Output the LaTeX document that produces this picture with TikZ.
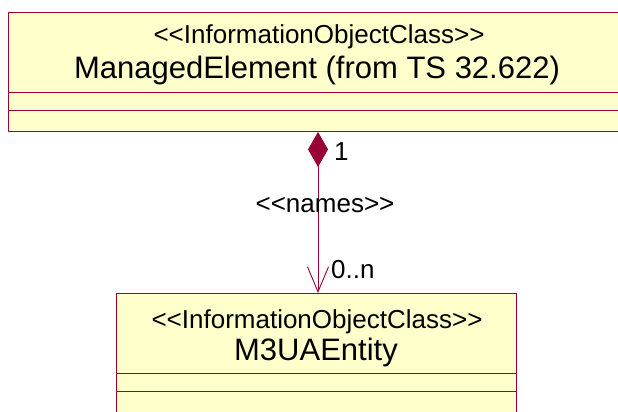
\documentclass[tikz,border=0pt]{standalone}
\usepackage{fontspec}
\setmainfont{Liberation Sans}
\usetikzlibrary{arrows.meta}
\definecolor{umlfill}{RGB}{255,255,204}
\definecolor{umlline}{RGB}{153,0,51}
\begin{document}
\begin{tikzpicture}[x=1pt,y=-1pt,
  classbox/.style={draw=umlline,fill=umlfill,line width=0.9pt,rectangle,inner sep=0pt,anchor=north west},
  stereo/.style={font=\fontsize{26}{30}\selectfont,inner sep=0pt},
  cname/.style={font=\fontsize{31}{36}\selectfont,inner sep=0pt},
  lbl/.style={font=\fontsize{26}{30}\selectfont,inner sep=0pt},
  assoc/.style={draw=umlline,line width=0.9pt}]
\useasboundingbox (0,0) rectangle (618,412);
\clip (0,0) rectangle (618,412);
% top class
\node[classbox,minimum width=620pt,minimum height=119pt] (me) at (8,12) {};
\draw[umlline,line width=0.9pt] (8,92) -- (630,92) (8,110) -- (630,110);
\node[stereo] (meS) at (319,37) {<{}<InformationObjectClass>{}>};
\node[cname] (meN) at (317,70) {ManagedElement (from TS 32.622)};
% bottom class
\node[classbox,minimum width=400pt,minimum height=130pt] (m3) at (116,293) {};
\draw[umlline,line width=0.9pt] (116,373) -- (516,373) (116,391) -- (516,391);
\node[stereo] (m3S) at (317,322) {<{}<InformationObjectClass>{}>};
\node[cname] (m3N) at (316,352) {M3UAEntity};
% association
\coordinate (cx) at (318,200);
\draw[assoc,{Diamond[length=35pt,width=20pt,fill=umlline,line width=0.9pt]}-{Straight Barb[length=25pt,width=21pt,line width=0.9pt]}] (me.south -| cx) -- (m3.north -| cx);
\node[lbl,anchor=west] (one) at (334,152) {1};
\node[lbl] (names) at (325,205) {<{}<names>{}>};
\node[lbl,anchor=west] (zn) at (331,270) {0..n};
\end{tikzpicture}
\end{document}
